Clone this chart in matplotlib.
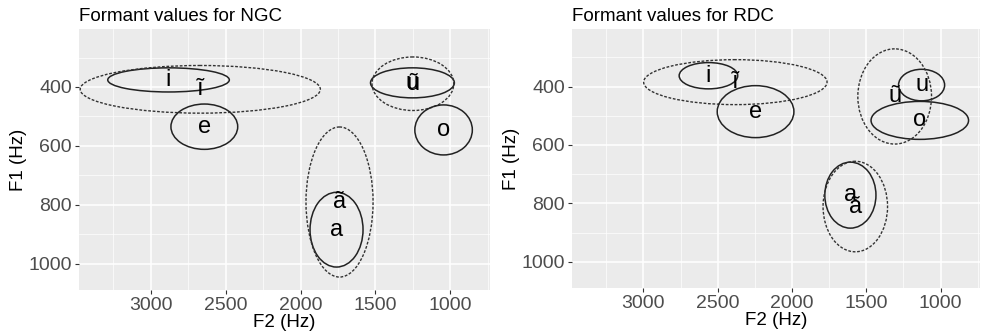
"""Vowel formant ellipses for two speakers (NGC, RDC)."""

import matplotlib
matplotlib.use("Agg")
import matplotlib.pyplot as plt
from matplotlib.patches import Ellipse
from matplotlib.ticker import MultipleLocator, FixedLocator

plt.rcParams['font.family'] = ['Liberation Sans', 'DejaVu Sans']

# vowel means (Hz) and ellipse semi-axes (Hz); nasal vowels are dashed
ngc_vowels = ["i", "ĩ", "e", "a", "ã", "u", "ũ", "o"]
ngc_f2 = [2882, 2670, 2643, 1760, 1740, 1253, 1250, 1045]
ngc_f1 = [376, 408, 535, 885, 791, 386, 389, 546]
ngc_f2_spread = [406, 802, 223, 177, 224, 280, 273, 192]
ngc_f1_spread = [41, 81, 77, 127, 255, 51, 91, 85]
ngc_nasal = [False, True, False, False, True, False, True, False]

rdc_vowels = ["i", "ĩ", "e", "a", "ã", "u", "ũ", "o"]
rdc_f2 = [2562, 2381, 2245, 1607, 1574, 1128, 1309, 1140]
rdc_f1 = [363, 385, 486, 772, 811, 395, 434, 516]
rdc_f2_spread = [197, 617, 258, 172, 217, 155, 248, 328]
rdc_f1_spread = [45, 77, 89, 113, 155, 54, 163, 65]
rdc_nasal = [False, True, False, False, True, False, True, False]

f2_ticks = [3000, 2500, 2000, 1500, 1000]
f1_ticks = [400, 600, 800, 1000]


def vowel_panel(ax, title, vowels, f2, f1, f2_spread, f1_spread, nasal):
    """Draws one speaker's vowel space in ggplot style with reversed axes."""
    ax.set_facecolor('#EBEBEB')
    for v, x, y, w, h, n in zip(vowels, f2, f1, f2_spread, f1_spread, nasal):
        if n:
            style = dict(linestyle=(0, (2.0, 1.2)), linewidth=1.0, edgecolor='#333333')
        else:
            style = dict(linestyle='-', linewidth=1.1, edgecolor='#222222')
        ax.add_patch(Ellipse((x, y), 2 * w, 2 * h, facecolor='none', zorder=3, **style))
        ax.text(x, y, v, ha='center', va='center', fontsize=17, color='black', zorder=4)

    ax.set_xlim(3480, 735)
    ax.set_ylim(1090, 203)
    ax.xaxis.set_major_locator(FixedLocator(f2_ticks))
    ax.yaxis.set_major_locator(FixedLocator(f1_ticks))
    ax.xaxis.set_minor_locator(MultipleLocator(500, offset=250))
    ax.yaxis.set_minor_locator(MultipleLocator(200, offset=100))
    ax.grid(which='major', color='white', linewidth=1.1)
    ax.grid(which='minor', color='white', linewidth=0.5)
    ax.set_axisbelow(True)
    for s in ax.spines.values():
        s.set_visible(False)
    ax.tick_params(which='major', length=3, width=0.8, color='#333333',
                   labelsize=14, labelcolor='#4D4D4D', pad=2)
    ax.tick_params(which='minor', length=0)
    ax.set_xlabel('F2 (Hz)', fontsize=13.5, labelpad=0)
    ax.set_ylabel('F1 (Hz)', fontsize=13.5, labelpad=1)
    ax.set_title(title, loc='left', fontsize=13.5, pad=6)


fig = plt.figure(figsize=(9.81, 3.36), dpi=100)
ax1 = fig.add_axes([79 / 981, 46 / 336, 411 / 981, 261 / 336])
ax2 = fig.add_axes([572 / 981, 48 / 336, 408 / 981, 259 / 336])

vowel_panel(ax1, 'Formant values for NGC', ngc_vowels, ngc_f2, ngc_f1,
            ngc_f2_spread, ngc_f1_spread, ngc_nasal)
vowel_panel(ax2, 'Formant values for RDC', rdc_vowels, rdc_f2, rdc_f1,
            rdc_f2_spread, rdc_f1_spread, rdc_nasal)

fig.savefig('out.png', dpi=100)
